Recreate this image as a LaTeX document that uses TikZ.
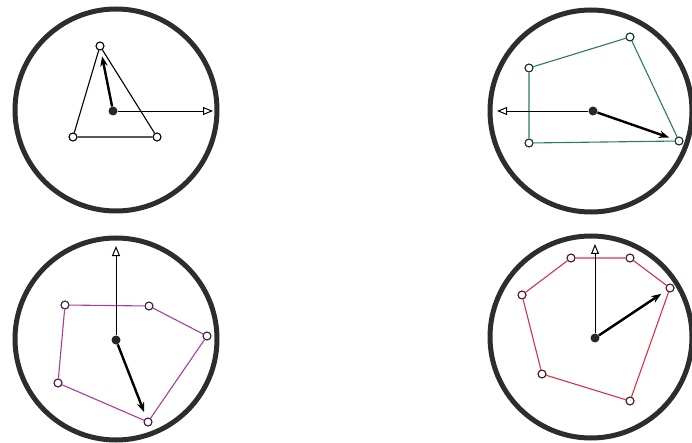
\documentclass[tikz,border=0pt]{standalone}
\usetikzlibrary{arrows.meta}
\definecolor{ringgray}{RGB}{45,45,45}
\definecolor{pgreen}{RGB}{40,125,90}
\definecolor{pmag}{RGB}{170,60,160}
\definecolor{pred}{RGB}{215,50,70}
\tikzset{
  ring/.style={draw=ringgray, line width=5pt},
  vtx/.style={circle, draw=#1!35!black, fill=white, line width=1.1pt, inner sep=0pt, minimum size=8pt},
  ctr/.style={circle, fill=black!85, inner sep=0pt, minimum size=9pt},
  poly/.style={draw=#1, line width=1.1pt},
  hand/.style={line width=2.4pt, -{Stealth[length=10pt,width=7.5pt]}, shorten >=6pt},
  axis/.style={line width=0.7pt, -{Triangle[open,length=10pt,width=8pt,line width=1pt]}}
}
\begin{document}
\begin{tikzpicture}[x=1pt,y=-1pt]
\useasboundingbox (0,0) rectangle (692,443);
% ---------- Panel 1 ----------
\draw[ring] (116,110) circle[radius=101pt];
\node[vtx=black] (a1) at (100,46) {};
\node[vtx=black] (a2) at (157,137) {};
\node[vtx=black] (a3) at (73,137) {};
\draw[poly=black] (a1) -- (a2) -- (a3) -- (a1);
\node[ctr] (c1) at (113,111) {};
\coordinate (e1) at (213,111);
\draw[axis] (c1) -- (e1);
\draw[hand] (c1) -- (a1);
% ---------- Panel 2 ----------
\draw[ring] (591,111) circle[radius=101pt];
\node[vtx=pgreen] (b1) at (529,68) {};
\node[vtx=pgreen] (b2) at (630,37) {};
\node[vtx=pgreen] (b3) at (679,141) {};
\node[vtx=pgreen] (b4) at (529,143) {};
\draw[poly=pgreen] (b1) -- (b2) -- (b3) -- (b4) -- (b1);
\node[ctr] (c2) at (593,111) {};
\coordinate (e2) at (497,111);
\draw[axis] (c2) -- (e2);
\draw[hand] (c2) -- (b3);
% ---------- Panel 3 ----------
\draw[ring] (116,339) circle[radius=101pt];
\node[vtx=pmag] (d1) at (65,305) {};
\node[vtx=pmag] (d2) at (149,306) {};
\node[vtx=pmag] (d3) at (207,336) {};
\node[vtx=pmag] (d4) at (148,422) {};
\node[vtx=pmag] (d5) at (58,383) {};
\draw[poly=pmag] (d1) -- (d2) -- (d3) -- (d4) -- (d5) -- (d1);
\node[ctr] (c3) at (116,340) {};
\coordinate (e3) at (116,246);
\draw[axis] (c3) -- (e3);
\draw[hand] (c3) -- (d4);
% ---------- Panel 4 ----------
\draw[ring] (591,337) circle[radius=101pt];
\node[vtx=pred] (f1) at (571,258) {};
\node[vtx=pred] (f2) at (630,258) {};
\node[vtx=pred] (f3) at (670,288) {};
\node[vtx=pred] (f4) at (630,401) {};
\node[vtx=pred] (f5) at (542,374) {};
\node[vtx=pred] (f6) at (522,295) {};
\draw[poly=pred] (f1) -- (f2) -- (f3) -- (f4) -- (f5) -- (f6) -- (f1);
\node[ctr] (c4) at (595,338) {};
\coordinate (e4) at (595,244);
\draw[axis] (c4) -- (e4);
\draw[hand] (c4) -- (f3);
\end{tikzpicture}
\end{document}
